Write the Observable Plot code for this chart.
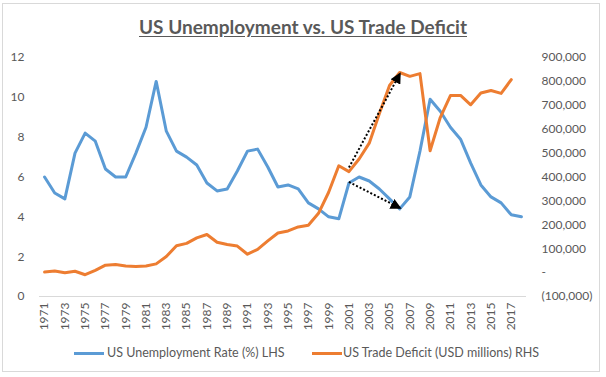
<!DOCTYPE html>
<html><head><meta charset="utf-8">
<script src="https://cdn.jsdelivr.net/npm/d3@7"></script>
<script src="https://cdn.jsdelivr.net/npm/@observablehq/plot@0.6"></script>
<style>
body{margin:0;background:#fff;font-family:Lato,"Open Sans",sans-serif;width:606px;height:377px;overflow:hidden;position:relative;}
#frame{position:absolute;left:2px;top:3px;width:598px;height:369px;border:1px solid #d9d9d9;box-sizing:border-box;}
#title{position:absolute;left:0;top:15px;width:606px;text-align:center;font-weight:bold;font-size:19px;color:#595959;text-decoration:underline;text-underline-offset:2px;}
#chart{position:absolute;left:0;top:40px;}
.leg{position:absolute;font-size:12.5px;color:#595959;white-space:nowrap;line-height:14px;}
.sw{position:absolute;height:3px;}
</style>
</head><body>
<div id="frame"></div>
<div id="title">US Unemployment vs. US Trade Deficit</div>
<div id="chart"></div>
<div class="sw" style="left:74px;top:352px;width:30px;background:#5B9BD5"></div>
<div class="leg" style="left:107px;top:346px">US Unemployment Rate (%) LHS</div>
<div class="sw" style="left:312px;top:352px;width:30px;background:#ED7D31"></div>
<div class="leg" style="left:343px;top:346px">US Trade Deficit (USD millions) RHS</div>
<script>
const years = [1971,1972,1973,1974,1975,1976,1977,1978,1979,1980,1981,1982,1983,1984,1985,1986,1987,1988,1989,1990,1991,1992,1993,1994,1995,1996,1997,1998,1999,2000,2001,2002,2003,2004,2005,2006,2007,2008,2009,2010,2011,2012,2013,2014,2015,2016,2017,2018];
const unemployment = [6.0,5.2,4.9,7.2,8.2,7.8,6.4,6.0,6.0,7.2,8.5,10.8,8.3,7.3,7.0,6.6,5.7,5.3,5.4,6.3,7.3,7.4,6.5,5.5,5.6,5.4,4.7,4.4,4.0,3.9,5.7,6.0,5.8,5.4,4.9,4.4,5.0,7.3,9.9,9.3,8.5,7.9,6.7,5.6,5.0,4.7,4.1,4.0];
const deficitYears = years.slice(0, 47);
const deficit = [2300,6400,-900,5500,-8900,9500,31100,33900,27600,25500,28000,36500,67100,112500,122200,145100,159600,127000,117700,111000,76900,96900,132500,165800,174200,191000,198400,248200,336300,446800,422400,475200,541600,665400,782800,837300,821200,832500,509700,648700,740600,741100,702200,751500,761900,749800,807500];
const leftTicks = [0,2,4,6,8,10,12];
const rightTicks = [-100000,0,100000,200000,300000,400000,500000,600000,700000,800000,900000];
const xTicks = [1971,1973,1975,1977,1979,1981,1983,1985,1987,1989,1991,1993,1995,1997,1999,2001,2003,2005,2007,2009,2011,2013,2015,2017];
// arrows: [fromYear, fromValue, toYear, toValue]
const arrowDeficit = [2001, 440000, 2006, 830000];
const arrowUnemployment = [2001, 5.75, 2006, 4.45];

const toLeft = v => (v + 100000) * 12 / 1000000;
const fromLeft = d => Math.round(d * 1000000 / 12 - 100000);
const fmtRight = v => v === 0 ? "-" : v < 0 ? "(" + d3.format(",")(-v) + ")" : d3.format(",")(v);

const uData = years.map((y, i) => ({year: y, value: unemployment[i]}));
const dData = deficitYears.map((y, i) => ({year: y, value: toLeft(deficit[i])}));
const arrows = [
  {x1: arrowDeficit[0], y1: toLeft(arrowDeficit[1]), x2: arrowDeficit[2], y2: toLeft(arrowDeficit[3])},
  {x1: arrowUnemployment[0], y1: arrowUnemployment[1], x2: arrowUnemployment[2], y2: arrowUnemployment[3]}
];

const chart = Plot.plot({
  width: 606,
  height: 296,
  marginTop: 17,
  marginBottom: 40,
  marginLeft: 39,
  marginRight: 80,
  style: {fontFamily: "Lato, 'Open Sans', sans-serif", fontSize: "12px", color: "#595959", background: "transparent"},
  x: {domain: [1970.5, 2018.5]},
  y: {domain: [0, 12]},
  marks: [
    Plot.axisY({anchor: "left", ticks: leftTicks, tickSize: 0, tickPadding: 15, label: null, fill: "#595959"}),
    Plot.axisY({anchor: "right", ticks: rightTicks.map(toLeft), tickFormat: d => fmtRight(fromLeft(d)), tickSize: 0, tickPadding: 15, label: null, fill: "#595959"}),
    Plot.axisX({ticks: xTicks, tickFormat: d => String(d), tickRotate: -90, tickSize: 0, tickPadding: 6, label: null, fill: "#595959"}),
    Plot.ruleY([0], {stroke: "#d9d9d9", strokeWidth: 1}),
    Plot.line(uData, {x: "year", y: "value", stroke: "#5B9BD5", strokeWidth: 3}),
    Plot.line(dData, {x: "year", y: "value", stroke: "#ED7D31", strokeWidth: 3}),
    Plot.link(arrows, {x1: "x1", y1: "y1", x2: "x2", y2: "y2", stroke: "black", strokeWidth: 2, strokeDasharray: "2,2", className: "arrowlink"})
  ]
});

// filled arrowheads
const ns = "http://www.w3.org/2000/svg";
const defs = document.createElementNS(ns, "defs");
const marker = document.createElementNS(ns, "marker");
marker.setAttribute("id", "ahead");
marker.setAttribute("viewBox", "0 0 10 10");
marker.setAttribute("refX", "8");
marker.setAttribute("refY", "5");
marker.setAttribute("markerWidth", "11");
marker.setAttribute("markerHeight", "11");
marker.setAttribute("markerUnits", "userSpaceOnUse");
marker.setAttribute("orient", "auto");
const mp = document.createElementNS(ns, "path");
mp.setAttribute("d", "M0,0L10,5L0,10z");
mp.setAttribute("fill", "black");
marker.appendChild(mp);
defs.appendChild(marker);
chart.insertBefore(defs, chart.firstChild);
chart.querySelectorAll(".arrowlink path").forEach(p => p.setAttribute("marker-end", "url(#ahead)"));

document.getElementById("chart").appendChild(chart);
</script>
</body></html>
